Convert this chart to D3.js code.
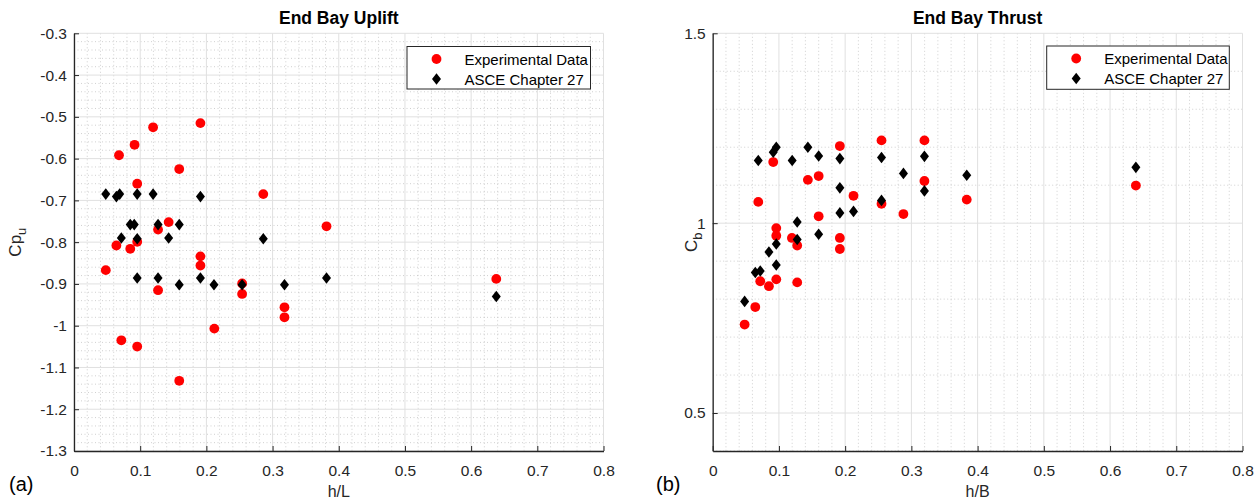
<!DOCTYPE html>
<html><head><meta charset="utf-8">
<script src="https://cdn.jsdelivr.net/npm/d3@7"></script>
<style>body{margin:0;background:#fff}svg{display:block;font-family:"Liberation Sans",Arial,sans-serif}</style>
</head><body><svg id="c" width="1255" height="502"></svg>
<script>
// Left panel: End Bay Uplift (h/L vs Cp_u)
const upliftExpX = [0.068,0.0915,0.1195,0.191,0.159,0.0955,0.286,0.143,0.127,0.3815,0.064,0.085,0.0955,0.048,0.191,0.191,0.127,0.254,0.254,0.318,0.318,0.212,0.0715,0.0955,0.159,0.638];
const upliftExpY = [-0.592,-0.567,-0.525,-0.515,-0.625,-0.66,-0.685,-0.752,-0.77,-0.762,-0.808,-0.816,-0.799,-0.867,-0.834,-0.856,-0.915,-0.899,-0.924,-0.956,-0.98,-1.007,-1.035,-1.05,-1.132,-0.888];
const upliftAsceX = [0.048,0.064,0.069,0.0955,0.1195,0.191,0.085,0.091,0.0715,0.0955,0.127,0.143,0.159,0.286,0.0955,0.127,0.159,0.191,0.2115,0.254,0.318,0.3815,0.638];
const upliftAsceY = [-0.685,-0.691,-0.685,-0.685,-0.685,-0.691,-0.758,-0.758,-0.79,-0.792,-0.758,-0.79,-0.758,-0.792,-0.886,-0.886,-0.902,-0.886,-0.902,-0.902,-0.902,-0.886,-0.93];
// Right panel: End Bay Thrust (h/B vs C_b)
const thrustExpX = [0.0914,0.0688,0.1437,0.16,0.192,0.2549,0.3197,0.3197,0.2126,0.2549,0.288,0.3836,0.16,0.096,0.096,0.1196,0.1276,0.192,0.192,0.0718,0.0849,0.096,0.1276,0.0643,0.0482,0.639];
const thrustExpY = [1.161,1.056,1.114,1.124,1.203,1.218,1.218,1.111,1.072,1.051,1.024,1.062,1.018,0.987,0.967,0.961,0.941,0.961,0.932,0.847,0.834,0.852,0.844,0.779,0.733,1.099];
const thrustAsceX = [0.0688,0.0914,0.096,0.12,0.1437,0.16,0.192,0.2549,0.3197,0.288,0.3836,0.192,0.3197,0.2549,0.192,0.2126,0.1276,0.1276,0.16,0.096,0.0849,0.096,0.0643,0.0718,0.0482,0.639];
const thrustAsceY = [1.165,1.187,1.2,1.165,1.2,1.177,1.17,1.173,1.176,1.131,1.126,1.093,1.085,1.06,1.027,1.031,1.003,0.957,0.971,0.945,0.924,0.89,0.87,0.874,0.794,1.147];

const xTicks = [0,0.1,0.2,0.3,0.4,0.5,0.6,0.7,0.8];
const upliftYTicks = [-1.3,-1.2,-1.1,-1,-0.9,-0.8,-0.7,-0.6,-0.5,-0.4,-0.3];
const thrustYTicks = [0.5,1,1.5];
const legendLabels = ["Experimental Data","ASCE Chapter 27"];

const svg = d3.select("#c");
const axisCol = "#262626";

function panel(o){
  const g = svg.append("g");
  const x = d3.scaleLinear().domain([0,0.8]).range([o.left,o.right]);
  const y = d3.scaleLinear().domain(o.ydom).range([o.bottom,o.top]);
  // minor grid
  const mx = d3.range(0,0.8001,0.02).filter(v=>Math.abs(v*10-Math.round(v*10))>1e-6);
  g.selectAll(".mx").data(mx).enter().append("line")
    .attr("x1",d=>x(d)).attr("x2",d=>x(d)).attr("y1",o.top).attr("y2",o.bottom)
    .attr("stroke","#b0b0b0").attr("stroke-width",0.6).attr("stroke-dasharray","1,2.5");
  g.selectAll(".my").data(o.minorY).enter().append("line")
    .attr("x1",o.left).attr("x2",o.right).attr("y1",d=>y(d)).attr("y2",d=>y(d))
    .attr("stroke","#b0b0b0").attr("stroke-width",0.6).attr("stroke-dasharray","1,2.5");
  // major grid
  g.selectAll(".gx").data(xTicks).enter().append("line")
    .attr("x1",d=>x(d)).attr("x2",d=>x(d)).attr("y1",o.top).attr("y2",o.bottom)
    .attr("stroke","#e0e0e0").attr("stroke-width",1);
  g.selectAll(".gy").data(o.yticks).enter().append("line")
    .attr("x1",o.left).attr("x2",o.right).attr("y1",d=>y(d)).attr("y2",d=>y(d))
    .attr("stroke","#e0e0e0").attr("stroke-width",1);
  // axes
  const ax = g.append("g").attr("transform",`translate(0,${o.bottom})`)
    .call(d3.axisBottom(x).tickValues(xTicks).tickFormat(d3.format("")).tickSizeInner(-5).tickSizeOuter(0).tickPadding(14));
  const ay = g.append("g").attr("transform",`translate(${o.left},0)`)
    .call(d3.axisLeft(y).tickValues(o.yticks).tickFormat(d=>String(d)).tickSizeInner(-5).tickSizeOuter(0).tickPadding(7));
  [ax,ay].forEach(a=>{
    a.selectAll("path,line").attr("stroke",axisCol);
    a.select("path").attr("stroke-width",1.3);
    a.selectAll("text").attr("fill",axisCol).style("font-size","15.5px").style("font-family","Liberation Sans, Arial, sans-serif");
  });
  ax.selectAll("text").attr("dy","0").attr("y",24.5);
  // points
  g.selectAll(".e").data(o.ex.map((v,i)=>[v,o.ey[i]])).enter().append("circle")
    .attr("cx",d=>x(d[0])).attr("cy",d=>y(d[1])).attr("r",4.9).attr("fill","#ff0000");
  const dia = (cx,cy)=>`M${cx},${cy-5.8}L${cx+4.5},${cy}L${cx},${cy+5.8}L${cx-4.5},${cy}Z`;
  g.selectAll(".a").data(o.ax.map((v,i)=>[v,o.ay[i]])).enter().append("path")
    .attr("d",d=>dia(x(d[0]),y(d[1]))).attr("fill","#000");
  // title
  g.append("text").attr("x",(o.left+o.right)/2).attr("y",24).attr("text-anchor","middle")
    .style("font-weight","bold").style("font-size","17.5px").attr("fill","#000").text(o.title);
  // x label
  g.append("text").attr("x",(o.left+o.right)/2).attr("y",497).attr("text-anchor","middle")
    .style("font-size","16px").attr("fill",axisCol).text(o.xlabel);
  // y label
  const yl = g.append("text").attr("transform",`translate(${o.ylx},${(o.top+o.bottom)/2}) rotate(-90)`)
    .attr("text-anchor","middle").style("font-size","17px").attr("fill",axisCol);
  yl.append("tspan").text(o.ylab[0]);
  yl.append("tspan").attr("dy",5).style("font-size","13px").text(o.ylab[1]);
  // panel tag
  g.append("text").attr("x",o.tagX).attr("y",491).style("font-size","20px").attr("fill","#000").text(o.tag);
  // legend
  const L = o.leg;
  g.append("rect").attr("x",L.x).attr("y",L.y).attr("width",L.w).attr("height",L.h)
    .attr("fill","#fff").attr("stroke","#262626").attr("stroke-width",1);
  g.append("circle").attr("cx",L.x+29.5).attr("cy",L.y+12.5).attr("r",4.9).attr("fill","#ff0000");
  g.append("path").attr("d",dia(L.x+29.5,L.y+32.5)).attr("fill","#000");
  legendLabels.forEach((t,i)=>{
    g.append("text").attr("x",L.x+57.5).attr("y",L.y+18+i*20).style("font-size","15px").attr("fill","#000").text(t);
  });
}

panel({left:74,right:603.5,top:33.3,bottom:451,ydom:[-1.3,-0.3],yticks:upliftYTicks,
  minorY:d3.range(-1.3,-0.2999,0.02).filter(v=>Math.abs(v*10-Math.round(v*10))>1e-6),
  ex:upliftExpX,ey:upliftExpY,ax:upliftAsceX,ay:upliftAsceY,title:"End Bay Uplift",xlabel:"h/L",
  ylab:["Cp","u"],ylx:21,tag:"(a)",tagX:9,leg:{x:407,y:46.5,w:183.5,h:42.5}});
panel({left:712.7,right:1242.5,top:33.3,bottom:451,ydom:[0.4,1.5],yticks:thrustYTicks,
  minorY:[0.4,0.6,0.7,0.8,0.9,1.1,1.2,1.3,1.4],
  ex:thrustExpX,ey:thrustExpY,ax:thrustAsceX,ay:thrustAsceY,title:"End Bay Thrust",xlabel:"h/B",
  ylab:["C","b"],ylx:697,tag:"(b)",tagX:656,leg:{x:1046.7,y:46,w:182.6,h:43.3}});
</script></body></html>
